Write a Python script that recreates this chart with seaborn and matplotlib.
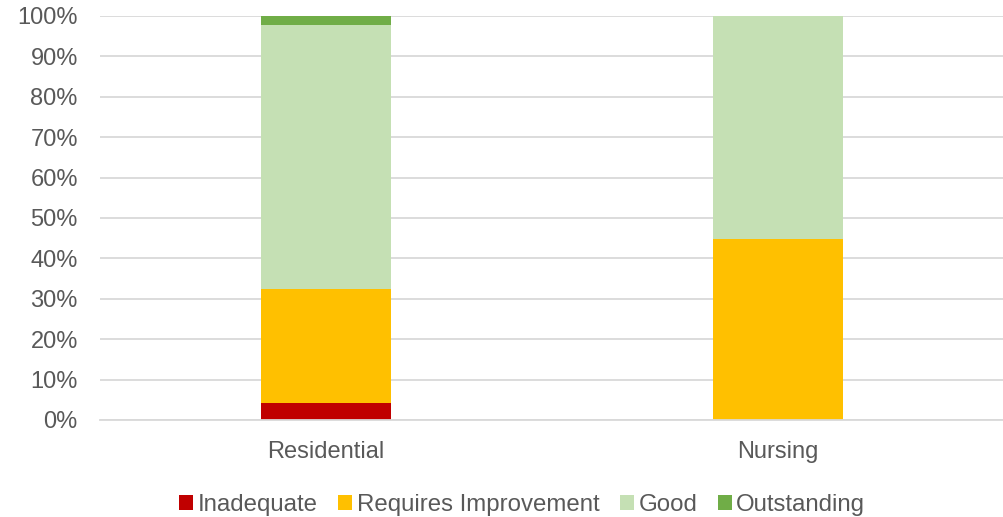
import matplotlib
matplotlib.use("Agg")
import matplotlib.pyplot as plt
import seaborn as sns
import pandas as pd
import numpy as np
from matplotlib.patches import Patch
from matplotlib.ticker import FuncFormatter

categories = ["Residential", "Nursing"]
series = ["Inadequate", "Requires Improvement", "Good", "Outstanding"]
inadequate = [4.2, 0.0]
requires_improvement = [28.2, 44.8]
good = [65.4, 55.2]
outstanding = [2.2, 0.0]
colors = ["#C00000", "#FFC000", "#C5E0B4", "#70AD47"]

sns.set_theme(style="white")
plt.rcParams['font.family'] = ['Liberation Sans', 'DejaVu Sans']
text_color = "#595959"

fig = plt.figure(figsize=(10.04, 5.17), dpi=100)
ax = fig.add_axes([100/1004, (517-420)/517, 904/1004, 404/517])

values = [inadequate, requires_improvement, good, outstanding]
bottom = np.zeros(len(categories))
for name, vals, col in zip(series, values, colors):
    df = pd.DataFrame({"category": categories, "value": vals})
    sns.barplot(data=df, x="category", y="value", color=col, bottom=bottom,
                width=0.288, ax=ax, saturation=1, linewidth=0, order=categories)
    bottom = bottom + np.array(vals)

ax.set_ylim(0, 100)
ax.set_xlim(-0.5, 1.5)
ax.set_yticks(np.arange(0, 101, 10))
ax.yaxis.set_major_formatter(FuncFormatter(lambda v, p: f"{int(v)}%"))
ax.grid(axis="y", color="#D9D9D9", linewidth=1.3)
ax.set_axisbelow(True)
for s in ["top", "right", "left"]:
    ax.spines[s].set_visible(False)
ax.spines["bottom"].set_color("#D9D9D9")
ax.spines["bottom"].set_linewidth(1.3)
ax.set_xlabel("")
ax.set_ylabel("")
ax.tick_params(axis="both", labelsize=17, colors=text_color, length=0)
ax.tick_params(axis="x", pad=15)
ax.tick_params(axis="y", pad=16)

handles = [Patch(facecolor=c, edgecolor="none", label=n) for n, c in zip(series, colors)]
leg = fig.legend(handles=handles, loc="center", bbox_to_anchor=(522/1004, 1 - 505/517),
                 ncol=4, frameon=False, fontsize=17.3, handlelength=0.6, handleheight=0.6,
                 handletextpad=0.18, columnspacing=0.85)
for t in leg.get_texts():
    t.set_color(text_color)

fig.savefig("out.png", dpi=100)
